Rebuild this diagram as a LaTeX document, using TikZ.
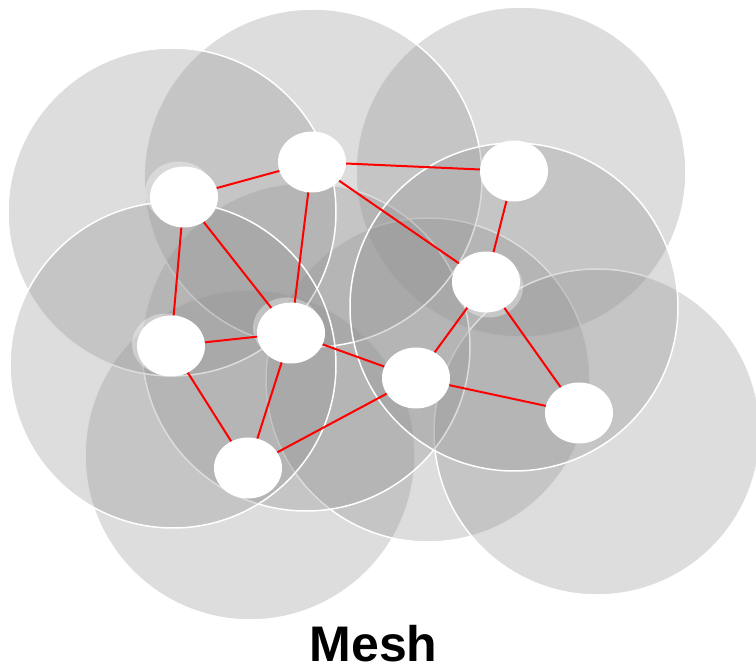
\documentclass[tikz,border=0pt]{standalone}
\usepackage{fontspec}
\usetikzlibrary{shapes.geometric}
\newfontfamily\labelfont{Liberation Sans}
\definecolor{cellgray}{RGB}{144,144,144}
\definecolor{linkred}{RGB}{255,0,0}

\begin{document}
\begin{tikzpicture}[x=1pt,y=-1pt,
        cell/.style={draw=white, line width=1.5pt, fill=cellgray, fill opacity=0.31},
        station/.style={ellipse, fill=white, minimum width=68pt, minimum height=61pt, inner sep=0},
        halo/.style={fill=white, fill opacity=0.35},
        link/.style={linkred, line width=2pt}]
                \newcommand{\rx}{34}
                \newcommand{\ry}{30.5}

                \useasboundingbox (0,0) rectangle (756,668);

                % Draw coverage cells (order sets which rims stay white)
                \foreach \cx/\cy/\r in {521/172/165, 250/455/165, 428/380/162, 597/432/163,
                                       306/347/164, 313/178/169, 172/212/164, 173/365/163, 514/307/164} {
                    \draw[cell] (\cx,\cy) circle[radius=\r];
                }

                % Draw halos behind some stations
                \foreach \hx/\hy in {179/192, 166/344, 489/287, 287/328} {
                    \fill[halo] (\hx,\hy) ellipse[x radius=\rx, y radius=\ry];
                }

                % Draw stations
                \foreach \name/\px/\py in {a/184/197, b/312/162, c/514/171, d/486/282, e/171/346,
                                           f/291/333, g/416/378, h/579/413, i/248/468} {
                    \node[station] (\name) at (\px,\py) {};
                }

                % Draw links
                \foreach \s/\t in {a/b, b/c, a/e, a/f, b/f, b/d, c/d, e/f,
                                   e/i, f/i, f/g, i/g, g/d, g/h, d/h} {
                    \draw[link] (\s) -- (\t);
                }

                \node[anchor=base, inner sep=0, font=\labelfont\bfseries\fontsize{50}{60}\selectfont] (title) at (373.5,661) {Mesh};
            \end{tikzpicture}
\end{document}
